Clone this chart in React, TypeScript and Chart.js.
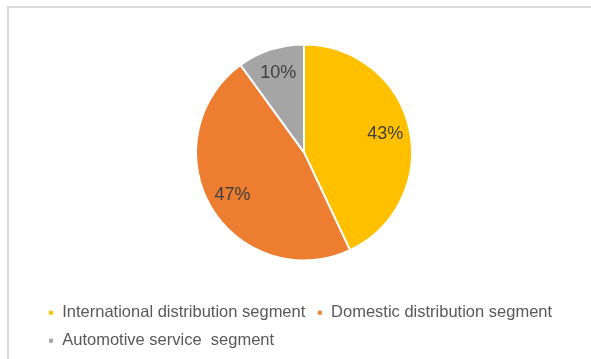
import React, { useEffect, useRef } from "react";
import { Chart, registerables } from "chart.js";

Chart.register(...registerables);

const categories = [
  "International distribution segment",
  "Domestic distribution segment",
  "Automotive service  segment",
];
const shares = [43, 47, 10];
const sliceColors = ["#FFC000", "#ED7D31", "#A5A5A5"];

const pctLabels = {
  id: "pctLabels",
  afterDatasetsDraw(chart: any) {
    const { ctx } = chart;
    const meta = chart.getDatasetMeta(0);
    const data = chart.data.datasets[0].data as number[];
    ctx.save();
    ctx.font = "18px 'Liberation Sans', Arial, sans-serif";
    ctx.fillStyle = "#404040";
    ctx.textAlign = "center";
    ctx.textBaseline = "middle";
    meta.data.forEach((arc: any, i: number) => {
      const { x, y, startAngle, endAngle, outerRadius } = arc.getProps(
        ["x", "y", "startAngle", "endAngle", "outerRadius"],
        true
      );
      const mid = (startAngle + endAngle) / 2;
      const r = outerRadius * 0.77;
      ctx.fillText(`${data[i]}%`, x + Math.cos(mid) * r, y + Math.sin(mid) * r);
    });
    ctx.restore();
  },
};

export default function App() {
  const ref = useRef<HTMLCanvasElement | null>(null);
  useEffect(() => {
    if (!ref.current) return;
    const chart = new Chart(ref.current, {
      type: "pie",
      data: {
        labels: categories,
        datasets: [
          {
            data: shares,
            backgroundColor: sliceColors,
            borderColor: "#ffffff",
            borderWidth: 2,
            radius: 108,
          } as any,
        ],
      },
      options: {
        responsive: false,
        animation: false,
        layout: { padding: { top: 11.75, left: 36.5, right: 19.5, bottom: 0 } },
        plugins: {
          tooltip: { enabled: false },
          legend: {
            position: "bottom",
            align: "start",
            labels: {
              boxWidth: 6,
              boxHeight: 6,
              padding: 11.5,
              color: "#595959",
              font: { family: "'Liberation Sans', Arial, sans-serif", size: 16.5 },
            },
          },
        },
      },
      plugins: [pctLabels],
    });
    return () => chart.destroy();
  }, []);
  return (
    <div style={{ position: "absolute", left: 0, top: 0, width: 591, height: 359, background: "#fff", overflow: "hidden" }}>
      <div
        style={{
          position: "absolute",
          left: 7,
          top: 6,
          width: 620,
          height: 400,
          borderTop: "2px solid #d9d9d9",
          borderLeft: "2px solid #d9d9d9",
        }}
      />
      <canvas ref={ref} width={591} height={359} style={{ position: "absolute", left: 0, top: 0 }} />
    </div>
  );
}
